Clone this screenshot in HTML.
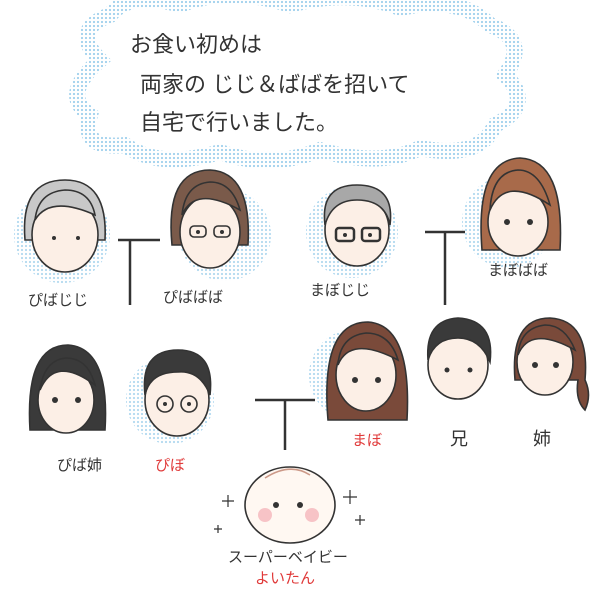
<!DOCTYPE html>
<html><head><meta charset="utf-8"><style>
body{margin:0;background:#fff;width:600px;height:600px;overflow:hidden}
svg{display:block}
text{font-family:"Liberation Sans","Noto Sans CJK JP",sans-serif;fill:#333}
</style></head><body>
<svg width="600" height="600" viewBox="0 0 600 600">
<defs>
<pattern id="dots" width="4" height="4" patternUnits="userSpaceOnUse"><circle cx="2" cy="2" r="1.1" fill="#9fd0ec"/></pattern>
</defs>
<!-- cloud -->
<path d="M100,60 Q70,30 110,15 Q130,-10 180,5 Q230,-15 290,5 Q350,-12 400,8 Q460,-5 490,25 Q530,40 505,75 Q535,105 495,125 Q480,160 420,148 Q380,168 320,150 Q270,170 220,152 Q160,170 125,145 Q80,150 90,115 Q60,95 100,60 Z" fill="none" stroke="url(#dots)" stroke-width="16"/>
<text x="130" y="52" font-size="22">お食い初めは</text>
<text x="140" y="92" font-size="22">両家の じじ＆ばばを招いて</text>
<text x="140" y="130" font-size="22">自宅で行いました。</text>

<!-- halos -->
<g fill="url(#dots)" opacity="0.8">
<circle cx="62" cy="235" r="48"/><circle cx="225" cy="235" r="46"/><circle cx="352" cy="232" r="46"/>
<circle cx="508" cy="222" r="46"/><circle cx="170" cy="400" r="44"/><circle cx="355" cy="375" r="46"/>
</g>

<!-- connectors -->
<g stroke="#333" stroke-width="2.5" fill="none">
<path d="M118,240 H160 M130,240 V305"/>
<path d="M425,232 H465 M445,232 V305"/>
<path d="M255,400 H315 M285,400 V450"/>
</g>

<!-- faces -->
<g stroke="#333" stroke-width="1.6">
<!-- 1 grey hair grandma -->
<path d="M25,240 Q20,180 65,180 Q108,180 105,240 Z" fill="#c8c8c8"/>
<ellipse cx="65" cy="235" rx="33" ry="37" fill="#fcefe6"/>
<path d="M35,220 Q50,195 95,215 Q90,190 65,190 Q38,192 35,220Z" fill="#c8c8c8"/>
<!-- 2 -->
<path d="M172,245 Q165,170 210,170 Q252,172 248,245 Z" fill="#7a5a4a"/>
<ellipse cx="210" cy="232" rx="30" ry="36" fill="#fcefe6"/>
<path d="M182,215 Q195,185 240,210 Q232,182 210,182 Q185,184 182,215Z" fill="#7a5a4a"/>
<!-- 3 -->
<ellipse cx="357" cy="230" rx="32" ry="36" fill="#fcefe6"/>
<path d="M325,225 Q320,185 357,185 Q395,185 390,225 Q385,200 357,200 Q332,200 325,225Z" fill="#a8a8a8"/>
<!-- 4 -->
<path d="M482,250 Q475,160 520,158 Q565,160 560,250 Z" fill="#a86a4a"/>
<ellipse cx="518" cy="222" rx="30" ry="34" fill="#fcefe6"/>
<path d="M490,210 Q505,175 550,205 Q540,170 518,170 Q492,172 490,210Z" fill="#a86a4a"/>
<!-- row2 sister -->
<path d="M30,430 Q25,345 68,345 Q110,348 105,430 Z" fill="#3a3a3a"/>
<ellipse cx="66" cy="400" rx="28" ry="33" fill="#fcefe6"/>
<path d="M40,390 Q55,355 95,385 Q88,358 66,358 Q44,360 40,390Z" fill="#3a3a3a"/>
<!-- piboo -->
<ellipse cx="177" cy="400" rx="32" ry="36" fill="#fcefe6"/>
<path d="M145,395 Q140,350 178,350 Q215,350 210,395 Q200,370 178,372 Q150,372 145,395Z" fill="#3a3a3a"/>
<!-- mabo -->
<path d="M328,420 Q320,322 368,322 Q412,325 407,420 Z" fill="#7a4a3a"/>
<ellipse cx="366" cy="375" rx="30" ry="36" fill="#fcefe6"/>
<path d="M338,365 Q350,335 398,360 Q390,333 366,333 Q340,336 338,365Z" fill="#7a4a3a"/>
<!-- brother -->
<ellipse cx="458" cy="365" rx="30" ry="34" fill="#fcefe6"/>
<path d="M428,360 Q425,320 458,318 Q495,320 490,362 Q480,338 458,338 Q435,338 428,360Z" fill="#3a3a3a"/>
<!-- sister2 -->
<path d="M515,380 Q510,318 550,318 Q590,320 585,380 Q592,395 585,410 Q575,400 578,380 Z" fill="#7a4a3a"/>
<ellipse cx="545" cy="362" rx="28" ry="33" fill="#fcefe6"/>
<path d="M518,355 Q530,325 575,350 Q565,325 545,325 Q520,328 518,355Z" fill="#7a4a3a"/>
<!-- baby -->
<ellipse cx="290" cy="505" rx="45" ry="38" fill="#fff8f2"/>
<path d="M265,478 Q290,462 310,475" fill="none" stroke="#c98"/>
</g>
<!-- eyes / glasses -->
<g fill="#333">
<circle cx="54" cy="238" r="2"/><circle cx="78" cy="238" r="2"/>
<circle cx="198" cy="232" r="2"/><circle cx="222" cy="232" r="2"/>
<circle cx="345" cy="235" r="2"/><circle cx="370" cy="235" r="2"/>
<circle cx="507" cy="222" r="3"/><circle cx="530" cy="222" r="3"/>
<circle cx="55" cy="400" r="3"/><circle cx="78" cy="400" r="3"/>
<circle cx="165" cy="404" r="2"/><circle cx="189" cy="404" r="2"/>
<circle cx="355" cy="380" r="3"/><circle cx="378" cy="380" r="3"/>
<circle cx="447" cy="370" r="2.5"/><circle cx="470" cy="370" r="2.5"/>
<circle cx="535" cy="365" r="3"/><circle cx="556" cy="365" r="3"/>
<circle cx="276" cy="505" r="3"/><circle cx="300" cy="505" r="3"/>
</g>
<g fill="none" stroke="#333" stroke-width="1.6">
<rect x="190" y="226" width="16" height="11" rx="4"/><rect x="214" y="226" width="16" height="11" rx="4"/>
<rect x="336" y="228" width="18" height="13" rx="3" stroke-width="2.5"/><rect x="362" y="228" width="18" height="13" rx="3" stroke-width="2.5"/>
<circle cx="165" cy="404" r="8"/><circle cx="189" cy="404" r="8"/>
</g>
<g fill="#f7c3c6"><circle cx="265" cy="515" r="7"/><circle cx="312" cy="515" r="7"/></g>
<g fill="none" stroke="#333" stroke-width="1.2">
<path d="M228,495 l0,12 M222,501 h12"/><path d="M350,490 l0,14 M343,497 h14"/>
<path d="M360,515 l0,10 M355,520 h10"/><path d="M218,525 l0,8 M214,529 h8"/>
</g>

<!-- labels -->
<g font-size="15">
<text x="28" y="305">ぴばじじ</text>
<text x="163" y="302">ぴばばば</text>
<text x="310" y="295">まぼじじ</text>
<text x="488" y="275">まぼばば</text>
<text x="57" y="470">ぴば姉</text>
<text x="155" y="470" style="fill:#e03a3a">ぴぼ</text>
<text x="352" y="445" style="fill:#e03a3a">まぼ</text>
<text x="450" y="445" font-size="18">兄</text>
<text x="533" y="445" font-size="18">姉</text>
<text x="228" y="562">スーパーベイビー</text>
<text x="255" y="583" style="fill:#e03a3a">よいたん</text>
</g>
</svg>
</body></html>
